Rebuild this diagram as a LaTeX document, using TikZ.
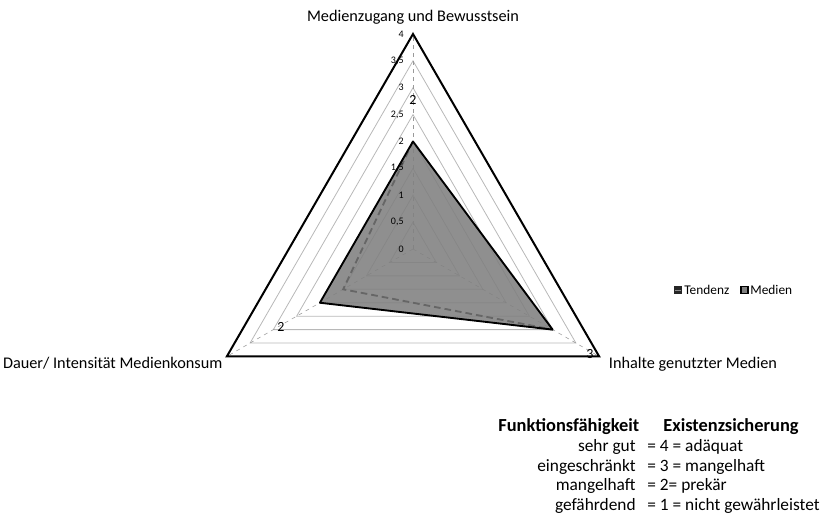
\documentclass[tikz,border=0pt]{standalone}
\usepackage{fontspec}
\setmainfont{Carlito}
\usetikzlibrary{positioning}

\begin{document}
\begin{tikzpicture}[x=0.75pt, y=0.75pt, semithick,
        grid/.style={draw=black!28, line width=0.6pt},
        spoke/.style={draw=black!40, dashed, line width=0.4pt},
        axislabel/.style={font=\fontsize{12.2}{14}\selectfont, inner sep=1pt},
        tick/.style={font=\fontsize{7.5}{8}\selectfont, anchor=east, inner sep=0pt},
        datalabel/.style={font=\fontsize{10.5}{12}\selectfont, inner sep=0pt},
        keytext/.style={font=\fontsize{10}{11}\selectfont, anchor=west, inner sep=0pt},
        legtext/.style={font=\fontsize{13}{15}\selectfont, inner sep=0pt},
        leghead/.style={font=\fontsize{13.8}{16}\selectfont\bfseries, anchor=west, inner sep=0pt}]
    \useasboundingbox (-413,-274) rectangle (414,249);
    \def\u{53.75}

    \coordinate (c) at (0,0);
    \coordinate (a1) at (90:4*\u);
    \coordinate (a2) at (210:4*\u);
    \coordinate (a3) at (330:4*\u);

    % grid
    \foreach \v in {0.5,1,...,3.5}
        \draw[grid] (90:\v*\u) -- (210:\v*\u) -- (330:\v*\u) -- cycle;
    \foreach \a in {a1,a2,a3}
        \draw[spoke] (c) -- (\a);
    \draw[line width=1.5pt, line join=miter] (a1) -- (a2) -- (a3) -- cycle;

    % series
    \coordinate (m1) at (90:2*\u);
    \coordinate (m2) at (210:2*\u);
    \coordinate (m3) at (330:3*\u);
    \coordinate (t2) at (210:1.5*\u);
    \fill[black!50, fill opacity=0.88] (m1) -- (m2) -- (m3) -- cycle;
    \draw[black!60, line width=1.4pt, dash pattern=on 5pt off 3pt] (m1) -- (t2) -- (m3);
    \draw[line width=1.4pt, line join=round] (m1) -- (m2) -- (m3) -- cycle;

    \foreach \v/\t in {0/0, 0.5/{0,5}, 1/1, 1.5/{1,5}, 2/2, 2.5/{2,5}, 3/3, 3.5/{3,5}, 4/4}
        \node[tick] at (-9,\v*\u) {\t};

    \node[axislabel, above=6pt of a1] (l1) {Medienzugang und Bewusstsein};
    \node[axislabel, anchor=north east] (l2) at ([xshift=-2pt, yshift=1pt]a2) {Dauer/ Intensität Medienkonsum};
    \node[axislabel, anchor=north west] (l3) at ([xshift=6pt, yshift=1pt]a3) {Inhalte genutzter Medien};

    \node[datalabel] (d1) at (0,149) {2};
    \node[datalabel] (d2) at (-132,-78) {2};
    \node[datalabel] (d3) at (177,-105) {3};

    % legend
    \fill[black!85] (261,-45) rectangle (269,-37);
    \draw[black!45, line width=1pt] (262,-41.5) -- (268,-41.5);
    \node[keytext] (lt) at (271,-41) {Tendenz};
    \draw[fill=black!50, line width=1pt] (328,-44.5) rectangle (335,-37.5);
    \node[keytext] (lm) at (337,-41) {Medien};

    \node[leghead] (h1) at (85,-178) {Funktionsfähigkeit};
    \node[leghead] (h2) at (250,-178) {Existenzsicherung};
    \foreach \y/\l/\r in {-198/sehr gut/{= 4 = adäquat}, -218/eingeschränkt/{= 3 = mangelhaft},
            -237/mangelhaft/{= 2= prekär}, -257/gefährdend/{= 1 = nicht gewährleistet}} {
        \node[legtext, anchor=east] at (223,\y) {\l};
        \node[legtext, anchor=west] at (234,\y) {\r};
    }
\end{tikzpicture}
\end{document}
